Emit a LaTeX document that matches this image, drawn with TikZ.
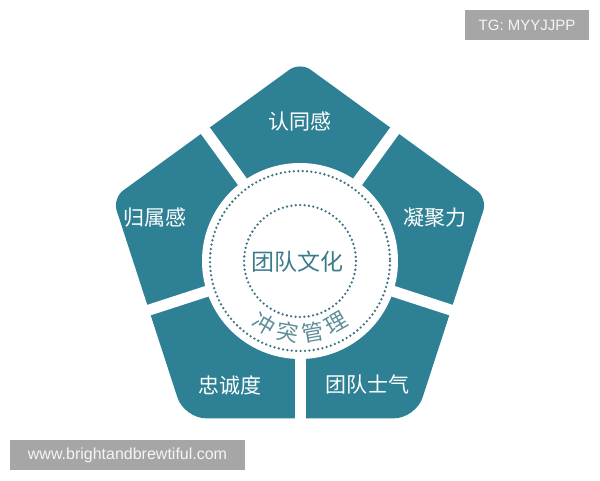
\documentclass[tikz,border=0pt]{standalone}
\usepackage{fontspec}
\usetikzlibrary{calc}
\setmainfont{Liberation Sans}
\newfontfamily\cjk{Noto Sans CJK SC}
\definecolor{teal1}{HTML}{2E8094}
\definecolor{centertxt}{HTML}{3B7B8B}
\definecolor{arctxt}{HTML}{5E8E9A}
\definecolor{dotc}{HTML}{3F7484}
\definecolor{wmbox}{HTML}{A6A6A6}
\tikzset{
  seglabel/.style={text=white,font=\cjk\fontsize{21}{21}\selectfont,inner sep=0pt},
  arcchar/.style={text=arctxt,font=\cjk\fontsize{22}{22}\selectfont,inner sep=0pt},
  dotring/.style={draw=dotc,line width=2.6pt,line cap=round,dash pattern=on 0pt off 4.4pt},
  gap/.style={draw=white,line width=11pt},
  wmark/.style={fill=wmbox,text=white!96!black,inner sep=0pt,anchor=center}
}
\begin{document}
\begin{tikzpicture}[x=1pt,y=-1pt]
\useasboundingbox[fill=white] (0,0) rectangle (600,480);
\coordinate (P) at (300,259);
\coordinate (C) at (300,261);
% pentagon
\fill[teal1,rounded corners=13pt] ($(P)+(-90:197)$) -- ($(P)+(-18:197)$) [rounded corners=22pt] -- ($(P)+(54:197)$)
  -- ($(P)+(126:197)$) [rounded corners=13pt] -- ($(P)+(198:197)$) -- cycle;
% gaps at edge midpoints
\foreach \a in {-54,-126,162,90,18}{
  \draw[gap] (C) -- ($(C)+(\a:230)$);
}
% white disk
\fill[white] (C) circle[radius=98];
\draw[dotring] (C) circle[radius=90];
\draw[dotring] (C) circle[radius=56];
% center text
\node[text=centertxt,font=\cjk\fontsize{23}{23}\selectfont,inner sep=0pt] (core) at (297,262) {团队文化};
% arc text
\foreach \ch/\a [count=\i] in {冲/120,突/100,管/80,理/60}{
  \node[arcchar,rotate={90-\a}] (arc\i) at ($(C)+(\a:72)$) {\ch};
}
% segment labels
\node[seglabel] (top) at (300,122) {认同感};
\node[seglabel] (right) at (435,218) {凝聚力};
\node[seglabel] (bright) at (367,385) {团队士气};
\node[seglabel] (bleft) at (230,385) {忠诚度};
\node[seglabel] (left) at (155,218) {归属感};
% watermarks
\node[wmark,minimum width=124pt,minimum height=30pt,font=\fontsize{15}{15}\selectfont] (wm1) at (527,25) {TG: MYYJJPP};
\node[wmark,minimum width=235pt,minimum height=30pt,font=\fontsize{16}{16}\selectfont] (wm2) at (127.5,455) {www.brightandbrewtiful.com};
\end{tikzpicture}
\end{document}
